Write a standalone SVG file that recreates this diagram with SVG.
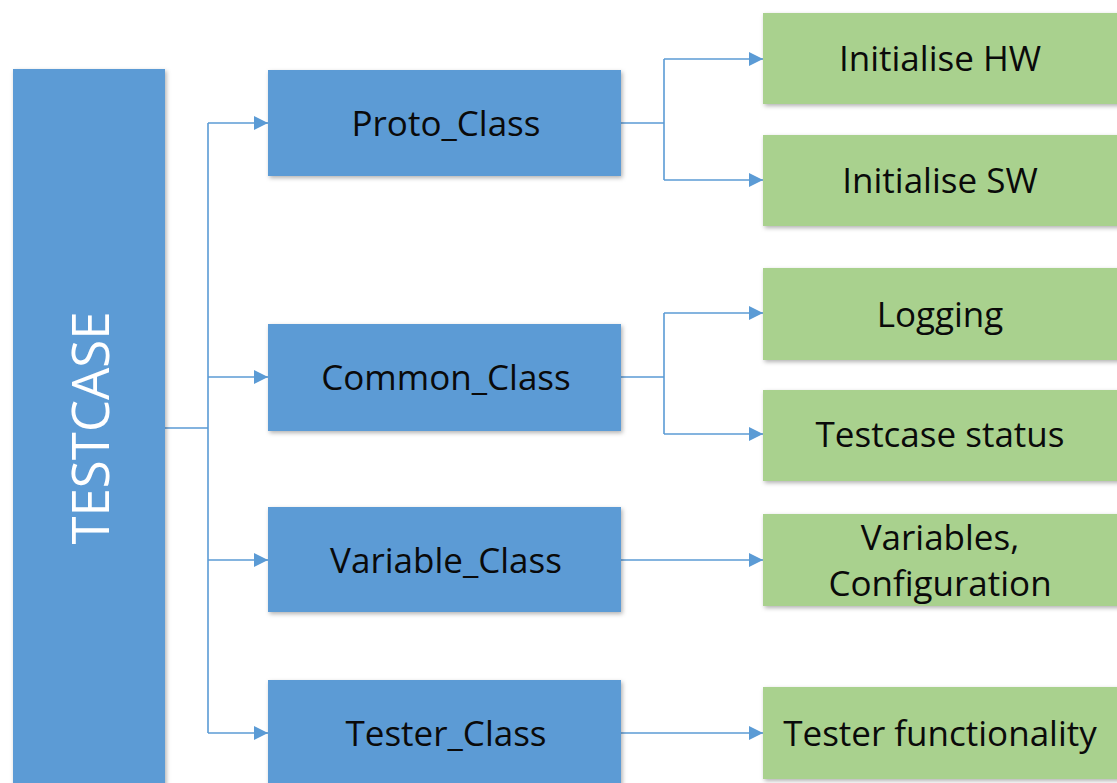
<svg xmlns="http://www.w3.org/2000/svg" width="1117" height="783" viewBox="0 0 1117 783">
  <style>
    .cls { fill: #5B9BD5; filter: url(#shadow); }
    .leaf { fill: #A9D18E; filter: url(#shadow); }
    .lbl { font-family: "Open Sans", "Liberation Sans", sans-serif; font-size: 35px; fill: #0a0a0a; text-anchor: middle; dominant-baseline: central; }
    .root { font-family: "Open Sans", "Liberation Sans", sans-serif; font-size: 51px; fill: #fff; text-anchor: middle; dominant-baseline: central; }
    .wire { fill: none; stroke: #5B9BD5; stroke-width: 1.6; }
    .arrow { fill: none; stroke: #5B9BD5; stroke-width: 1.6; marker-end: url(#head); }
  </style>
  <defs>
    <filter id="shadow" x="-5%" y="-5%" width="115%" height="120%">
      <feDropShadow dx="1.5" dy="2" stdDeviation="2" flood-color="#000" flood-opacity="0.3"/>
    </filter>
    <marker id="head" viewBox="0 0 10 10" refX="10" refY="5" markerWidth="15" markerHeight="14" markerUnits="userSpaceOnUse" orient="auto">
      <path d="M0,0 L10,5 L0,10 Z" fill="#5B9BD5"/>
    </marker>
  </defs>
  <rect width="1117" height="783" fill="#fff"/>

  <!-- connectors -->
  <g id="connectors">
    <path class="wire" d="M165,428 H208 M208,123 V733"/>
    <path class="arrow" d="M208,123 H268"/>
    <path class="arrow" d="M208,377 H268"/>
    <path class="arrow" d="M208,560 H268"/>
    <path class="arrow" d="M208,733 H268"/>

    <path class="wire" d="M621,123 H664 M664,59 V180"/>
    <path class="arrow" d="M664,59 H763"/>
    <path class="arrow" d="M664,180 H763"/>

    <path class="wire" d="M621,377 H664 M664,313 V434"/>
    <path class="arrow" d="M664,313 H763"/>
    <path class="arrow" d="M664,434 H763"/>

    <path class="arrow" d="M621,560 H763"/>
    <path class="arrow" d="M621,733 H763"/>
  </g>

  <g id="testcase">
    <rect class="cls" x="13" y="69" width="152" height="720"/>
    <text class="root" transform="translate(89,428) rotate(-90)">TESTCASE</text>
  </g>

  <g id="proto_class">
    <rect class="cls" x="268" y="70" width="353" height="106"/>
    <text class="lbl" x="446" y="122">Proto_Class</text>
  </g>
  <g id="common_class">
    <rect class="cls" x="268" y="324" width="353" height="107"/>
    <text class="lbl" x="446" y="376">Common_Class</text>
  </g>
  <g id="variable_class">
    <rect class="cls" x="268" y="507" width="353" height="105"/>
    <text class="lbl" x="446" y="559">Variable_Class</text>
  </g>
  <g id="tester_class">
    <rect class="cls" x="268" y="680" width="353" height="110"/>
    <text class="lbl" x="446" y="732">Tester_Class</text>
  </g>

  <g id="init_hw">
    <rect class="leaf" x="763" y="13" width="360" height="91"/>
    <text class="lbl" x="940" y="57">Initialise HW</text>
  </g>
  <g id="init_sw">
    <rect class="leaf" x="763" y="135" width="360" height="91"/>
    <text class="lbl" x="940" y="179">Initialise SW</text>
  </g>
  <g id="logging">
    <rect class="leaf" x="763" y="268" width="360" height="92"/>
    <text class="lbl" x="940" y="313">Logging</text>
  </g>
  <g id="testcase_status">
    <rect class="leaf" x="763" y="390" width="360" height="91"/>
    <text class="lbl" x="940" y="433">Testcase status</text>
  </g>
  <g id="variables_config">
    <rect class="leaf" x="763" y="514" width="360" height="92"/>
    <text class="lbl" x="940" y="536">Variables,</text>
    <text class="lbl" x="940" y="582">Configuration</text>
  </g>
  <g id="tester_functionality">
    <rect class="leaf" x="763" y="687" width="360" height="92"/>
    <text class="lbl" x="940" y="732">Tester functionality</text>
  </g>
</svg>
